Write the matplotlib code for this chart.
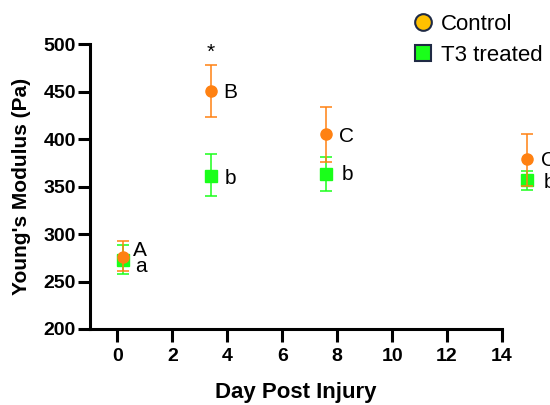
import matplotlib.pyplot as plt
from matplotlib.lines import Line2D

# x positions as they sit on the drawn axis (days 0, 3, 7, 14)
days = [0.2, 3.4, 7.58, 14.9]
control_mean = [276, 451, 405.5, 379]
control_hi = [293, 478, 434, 406]
control_lo = [261, 423, 376, 351]
t3_mean = [273, 361.5, 363.5, 357]
t3_hi = [288.5, 384, 381.5, 367]
t3_lo = [257.5, 340, 345.5, 346.5]
control_letters = ["A", "B", "C", "C"]
t3_letters = ["a", "b", "b", "b"]

plt.rcParams['font.family'] = ['Liberation Sans', 'DejaVu Sans']

orange = "#FF8112"
green = "#1AFF1A"

fig = plt.figure(figsize=(5.5, 4.05), dpi=100)
ax = fig.add_axes([0.1636, 0.1877, 0.9127 - 0.1636, 0.8906 - 0.1877])

t3_err = [[m - lo for m, lo in zip(t3_mean, t3_lo)], [hi - m for m, hi in zip(t3_mean, t3_hi)]]
ctl_err = [[m - lo for m, lo in zip(control_mean, control_lo)], [hi - m for m, hi in zip(control_mean, control_hi)]]

ax.errorbar(days, t3_mean, yerr=t3_err, fmt="s", color=green, ms=8.4, elinewidth=1.1,
            capsize=4.6, capthick=1.1, zorder=3, clip_on=False)
ax.errorbar(days, control_mean, yerr=ctl_err, fmt="o", color=orange, ms=8, elinewidth=1.1,
            capsize=4.6, capthick=1.1, zorder=4, clip_on=False)

# letter offsets (points) from each marker
ctl_dx = [7.5, 9, 9.5, 10.5]
ctl_dy = [0.5, -5.3, -5.5, -5.3]
t3_dx = [8.5, 10, 11.5, 12]
t3_dy = [-8.5, -6, -4.5, -5.8]
for d, m, lab, dx, dy in zip(days, control_mean, control_letters, ctl_dx, ctl_dy):
    ax.annotate(lab, (d, m), xytext=(dx, dy), textcoords="offset points", fontsize=15,
                va="baseline", ha="left", annotation_clip=False)
for d, m, lab, dx, dy in zip(days, t3_mean, t3_letters, t3_dx, t3_dy):
    ax.annotate(lab, (d, m), xytext=(dx, dy), textcoords="offset points", fontsize=15,
                va="baseline", ha="left", annotation_clip=False)

ax.annotate("*", (days[1], control_hi[1]), xytext=(0, 5), textcoords="offset points",
            fontsize=15, ha="center", va="baseline")

ax.set_xlim(-1, 14)
ax.set_ylim(200, 500)
ax.set_xticks(range(0, 15, 2))
ax.set_yticks(range(200, 501, 50))

for side in ["top", "right"]:
    ax.spines[side].set_visible(False)
for side in ["left", "bottom"]:
    ax.spines[side].set_linewidth(2.2)

ax.tick_params(axis="both", direction="out", width=2.2, labelsize=14, length=9)
ax.tick_params(axis="x", pad=4.5)
ax.tick_params(axis="y", pad=1)
for lbl in ax.get_xticklabels() + ax.get_yticklabels():
    lbl.set_fontweight("bold")

ax.set_xlabel("Day Post Injury", fontsize=16, fontweight="bold", labelpad=12.5)
ax.set_ylabel("Young's Modulus (Pa)", fontsize=15, fontweight="bold", labelpad=9)

handles = [
    Line2D([], [], marker="o", linestyle="none", markersize=12, markerfacecolor="#FFC000",
           markeredgecolor="#1F2A44", markeredgewidth=1.5),
    Line2D([], [], marker="s", linestyle="none", markersize=11.5, markerfacecolor="#1AFF1A",
           markeredgecolor="#1F2A44", markeredgewidth=1.5),
]
fig.legend(handles, ["Control", "T3 treated"], loc="upper left", bbox_to_anchor=(0.729, 0.988),
           frameon=False, fontsize=16, handletextpad=0.2, labelspacing=0.46, handlelength=1.2,
           borderaxespad=0.0)

fig.savefig("out.png", dpi=100)
